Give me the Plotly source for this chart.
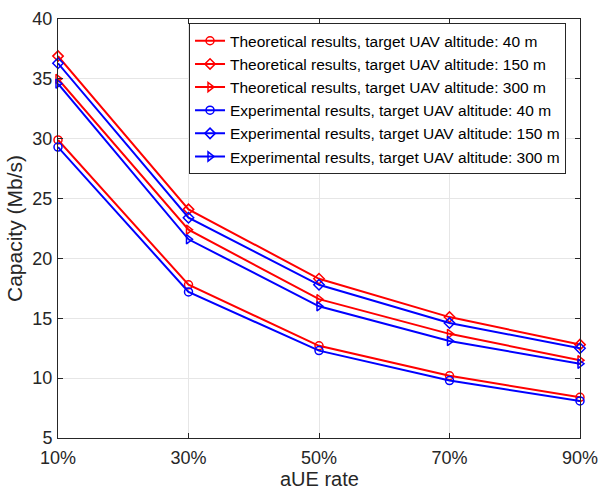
import plotly.graph_objects as go

x_labels = ["10%", "30%", "50%", "70%", "90%"]
x_vals = [10, 30, 50, 70, 90]

theo_40 = [29.9, 17.8, 12.7, 10.2, 8.4]
theo_150 = [36.9, 24.1, 18.3, 15.1, 12.8]
theo_300 = [35.0, 22.4, 16.6, 13.7, 11.5]
exp_40 = [29.3, 17.2, 12.3, 9.8, 8.1]
exp_150 = [36.3, 23.4, 17.8, 14.6, 12.5]
exp_300 = [34.6, 21.6, 16.0, 13.1, 11.2]

names = [
    "Theoretical results, target UAV altitude: 40 m",
    "Theoretical results, target UAV altitude: 150 m",
    "Theoretical results, target UAV altitude: 300 m",
    "Experimental results, target UAV altitude: 40 m",
    "Experimental results, target UAV altitude: 150 m",
    "Experimental results, target UAV altitude: 300 m",
]
series = [theo_40, theo_150, theo_300, exp_40, exp_150, exp_300]
colors = ["#ff0000"] * 3 + ["#0000ff"] * 3
symbols = ["circle-open", "diamond-open", "triangle-right-open"] * 2

fig = go.Figure()
for name, ys, c, s in zip(names, series, colors, symbols):
    fig.add_trace(go.Scatter(
        x=x_vals, y=ys, name=name, mode="lines+markers",
        line=dict(color=c, width=2),
        marker=dict(symbol=s, size=8, color=c, line=dict(width=1.5, color=c)),
        cliponaxis=False,
    ))

font_family = "Liberation Sans, Arial, sans-serif"
axis_common = dict(
    showline=True, linecolor="#262626", linewidth=1, mirror="ticks",
    ticks="inside", ticklen=5, tickcolor="#262626",
    showgrid=True, gridcolor="#e6e6e6", gridwidth=1,
    zeroline=False, tickfont=dict(size=18, color="#262626", family=font_family),
)

fig.update_layout(
    width=599, height=486,
    margin=dict(l=58, r=19, t=19, b=48),
    paper_bgcolor="white", plot_bgcolor="white",
    font=dict(family=font_family, color="#262626"),
    xaxis=dict(
        range=[10, 90], tickvals=x_vals, ticktext=x_labels,
        automargin=False, ticklabelstandoff=3,
        **axis_common,
    ),
    yaxis=dict(
        range=[5, 40], tickvals=[5, 10, 15, 20, 25, 30, 35, 40],
        title=dict(text="Capacity (Mb/s)", font=dict(size=21), standoff=4),
        automargin=False, ticklabelstandoff=1,
        **axis_common,
    ),
    legend=dict(
        x=0.251, y=0.99, xanchor="left", yanchor="top",
        bgcolor="white", bordercolor="#262626", borderwidth=1,
        font=dict(size=15.5, color="black", family=font_family),
        tracegroupgap=0, itemwidth=30,
    ),
    annotations=[dict(
        text="aUE rate", xref="paper", yref="paper", x=0.5, y=-0.097,
        xanchor="center", yanchor="middle", showarrow=False,
        font=dict(size=20, color="#262626", family=font_family),
    )],
    showlegend=True,
)

fig.write_html(
    "out.html",
    config={"displayModeBar": False},
    post_script="document.body.style.margin='0';document.body.style.overflow='hidden';",
)
